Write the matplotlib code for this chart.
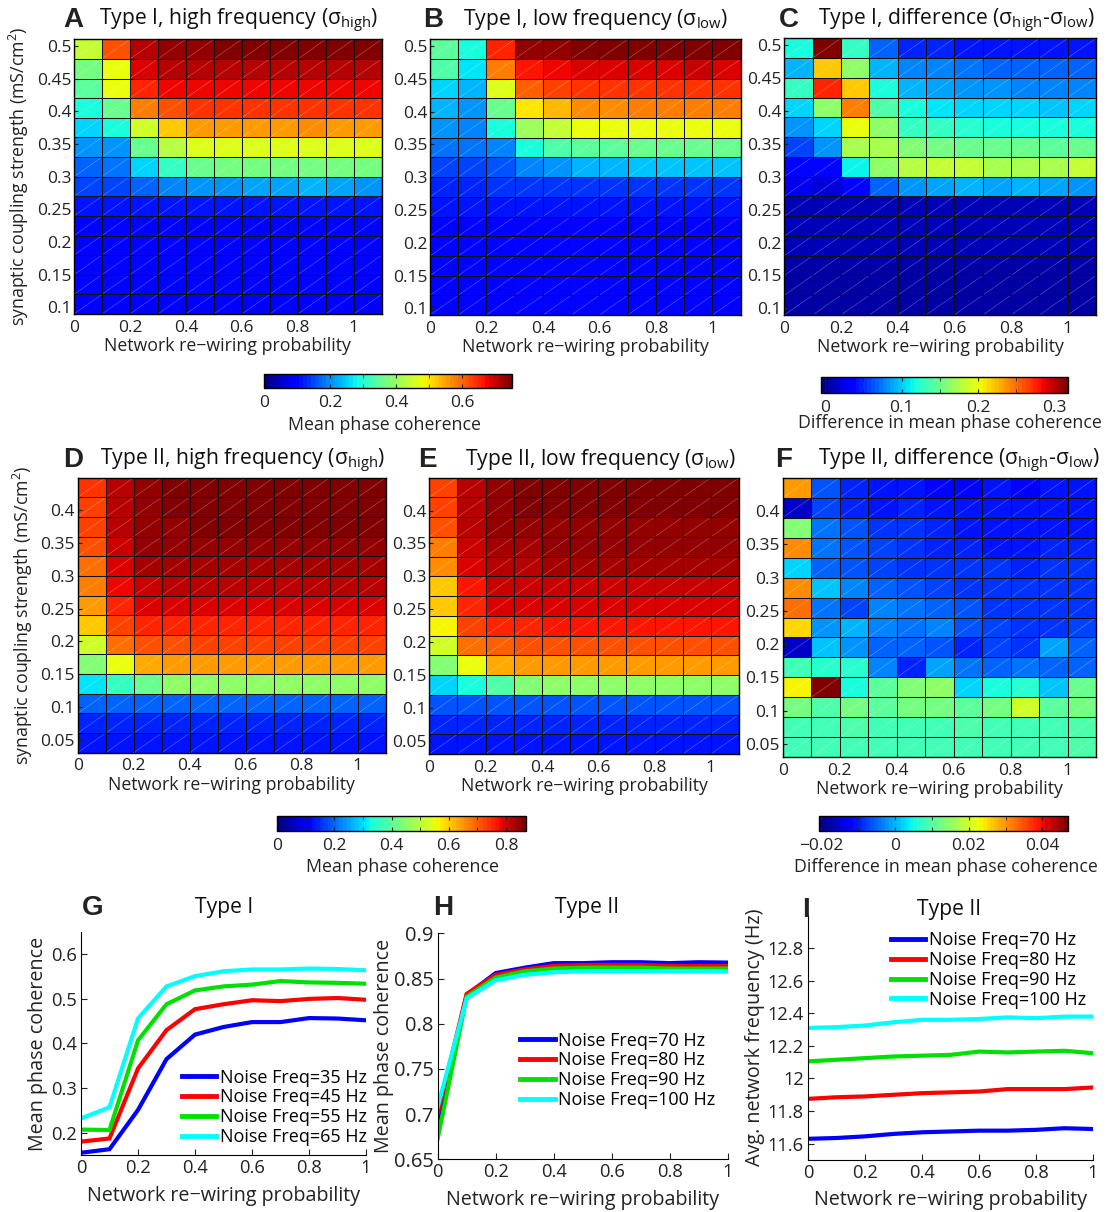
import numpy as np
import matplotlib
matplotlib.use('Agg')
import matplotlib.pyplot as plt
from matplotlib.collections import LineCollection
from matplotlib.ticker import MultipleLocator

plt.rcParams['font.family'] = ['Open Sans', 'DejaVu Sans']
plt.rcParams['mathtext.fontset'] = 'custom'
plt.rcParams['mathtext.rm'] = 'Open Sans'
plt.rcParams['mathtext.it'] = 'Open Sans:italic'
plt.rcParams['mathtext.bf'] = 'Open Sans:bold'

# ---------------- data ----------------
rewiring_edges = [0.0, 0.1, 0.2, 0.3, 0.4, 0.5, 0.6, 0.7, 0.8, 0.9, 1.0, 1.1]
coupling_edges_I = [0.51, 0.48, 0.45, 0.42, 0.39, 0.36, 0.33, 0.30, 0.27, 0.24, 0.21, 0.18, 0.15, 0.12, 0.09]
coupling_edges_II = [0.45, 0.42, 0.39, 0.36, 0.33, 0.30, 0.27, 0.24, 0.21, 0.18, 0.15, 0.12, 0.09, 0.06, 0.03]

# rows listed from top (strongest coupling) to bottom
typeI_high = [
    [0.435, 0.615, 0.71, 0.735, 0.74, 0.745, 0.745, 0.745, 0.745, 0.745, 0.745],
    [0.375, 0.47, 0.69, 0.705, 0.71, 0.71, 0.71, 0.71, 0.71, 0.71, 0.71],
    [0.35, 0.48, 0.655, 0.67, 0.675, 0.68, 0.68, 0.68, 0.68, 0.675, 0.68],
    [0.29, 0.36, 0.585, 0.615, 0.635, 0.64, 0.64, 0.64, 0.64, 0.645, 0.64],
    [0.25, 0.285, 0.45, 0.525, 0.555, 0.56, 0.56, 0.56, 0.565, 0.56, 0.56],
    [0.2, 0.21, 0.36, 0.43, 0.46, 0.465, 0.465, 0.465, 0.465, 0.465, 0.465],
    [0.17, 0.18, 0.25, 0.31, 0.36, 0.365, 0.365, 0.37, 0.37, 0.365, 0.37],
    [0.15, 0.15, 0.165, 0.19, 0.2, 0.21, 0.215, 0.22, 0.225, 0.215, 0.21],
    [0.11, 0.11, 0.11, 0.11, 0.115, 0.115, 0.115, 0.115, 0.115, 0.115, 0.115],
    [0.105, 0.105, 0.105, 0.105, 0.105, 0.105, 0.105, 0.105, 0.105, 0.105, 0.105],
    [0.1, 0.1, 0.1, 0.1, 0.1, 0.1, 0.1, 0.1, 0.1, 0.1, 0.1],
    [0.098, 0.098, 0.098, 0.098, 0.098, 0.098, 0.098, 0.098, 0.098, 0.098, 0.098],
    [0.095, 0.095, 0.095, 0.095, 0.095, 0.095, 0.095, 0.095, 0.095, 0.095, 0.095],
    [0.093, 0.093, 0.093, 0.093, 0.093, 0.093, 0.093, 0.093, 0.09, 0.093, 0.09],
]
typeI_low = [
    [0.35, 0.285, 0.65, 0.73, 0.74, 0.745, 0.745, 0.745, 0.745, 0.745, 0.745],
    [0.33, 0.27, 0.58, 0.66, 0.68, 0.69, 0.69, 0.69, 0.69, 0.695, 0.69],
    [0.255, 0.23, 0.465, 0.6, 0.63, 0.64, 0.645, 0.645, 0.645, 0.645, 0.645],
    [0.23, 0.21, 0.36, 0.5, 0.54, 0.57, 0.575, 0.58, 0.58, 0.585, 0.58],
    [0.2, 0.195, 0.285, 0.4, 0.435, 0.47, 0.47, 0.47, 0.47, 0.47, 0.47],
    [0.18, 0.18, 0.195, 0.29, 0.33, 0.345, 0.35, 0.355, 0.36, 0.36, 0.355],
    [0.15, 0.15, 0.155, 0.19, 0.21, 0.225, 0.23, 0.235, 0.24, 0.245, 0.235],
    [0.125, 0.125, 0.13, 0.135, 0.135, 0.14, 0.14, 0.14, 0.14, 0.14, 0.14],
    [0.11, 0.11, 0.11, 0.11, 0.11, 0.11, 0.11, 0.11, 0.11, 0.11, 0.11],
    [0.105, 0.105, 0.105, 0.105, 0.105, 0.105, 0.105, 0.105, 0.105, 0.105, 0.105],
    [0.1, 0.1, 0.1, 0.1, 0.1, 0.1, 0.1, 0.1, 0.1, 0.1, 0.1],
    [0.1, 0.1, 0.1, 0.1, 0.1, 0.1, 0.1, 0.1, 0.1, 0.1, 0.1],
    [0.097, 0.097, 0.097, 0.097, 0.097, 0.097, 0.097, 0.097, 0.097, 0.097, 0.097],
    [0.095, 0.095, 0.095, 0.095, 0.095, 0.095, 0.095, 0.095, 0.095, 0.095, 0.095],
]
typeI_diff = [
    [0.117, 0.318, 0.13, 0.065, 0.049, 0.046, 0.043, 0.043, 0.043, 0.043, 0.043],
    [0.091, 0.221, 0.166, 0.094, 0.078, 0.075, 0.072, 0.069, 0.065, 0.065, 0.065],
    [0.13, 0.273, 0.221, 0.117, 0.094, 0.088, 0.085, 0.081, 0.078, 0.078, 0.078],
    [0.101, 0.166, 0.247, 0.137, 0.117, 0.107, 0.104, 0.101, 0.101, 0.098, 0.101],
    [0.085, 0.101, 0.198, 0.162, 0.13, 0.127, 0.124, 0.12, 0.12, 0.12, 0.12],
    [0.059, 0.085, 0.175, 0.172, 0.156, 0.153, 0.15, 0.146, 0.146, 0.143, 0.146],
    [0.039, 0.036, 0.114, 0.166, 0.179, 0.182, 0.182, 0.172, 0.172, 0.172, 0.182],
    [0.026, 0.023, 0.036, 0.065, 0.081, 0.088, 0.091, 0.088, 0.094, 0.088, 0.085],
    [0.013, 0.013, 0.013, 0.013, 0.013, 0.013, 0.013, 0.013, 0.013, 0.013, 0.013],
    [0.012, 0.012, 0.012, 0.012, 0.012, 0.012, 0.012, 0.012, 0.012, 0.012, 0.012],
    [0.01, 0.01, 0.01, 0.01, 0.01, 0.01, 0.01, 0.01, 0.01, 0.01, 0.01],
    [0.009, 0.009, 0.009, 0.009, 0.009, 0.009, 0.009, 0.009, 0.009, 0.009, 0.009],
    [0.008, 0.008, 0.008, 0.008, 0.008, 0.008, 0.008, 0.008, 0.008, 0.008, 0.008],
    [0.007, 0.007, 0.007, 0.007, 0.007, 0.007, 0.007, 0.007, 0.007, 0.007, 0.007],
]
typeII_high = [
    [0.74, 0.826, 0.855, 0.857, 0.858, 0.859, 0.859, 0.859, 0.859, 0.859, 0.86],
    [0.73, 0.818, 0.853, 0.856, 0.858, 0.858, 0.858, 0.858, 0.858, 0.858, 0.859],
    [0.722, 0.815, 0.85, 0.855, 0.857, 0.858, 0.858, 0.858, 0.858, 0.858, 0.86],
    [0.713, 0.81, 0.842, 0.848, 0.85, 0.85, 0.85, 0.85, 0.85, 0.85, 0.85],
    [0.687, 0.8, 0.83, 0.836, 0.838, 0.838, 0.838, 0.838, 0.838, 0.838, 0.838],
    [0.67, 0.783, 0.81, 0.815, 0.818, 0.818, 0.818, 0.818, 0.818, 0.818, 0.818],
    [0.65, 0.757, 0.79, 0.795, 0.797, 0.797, 0.797, 0.797, 0.797, 0.797, 0.797],
    [0.61, 0.73, 0.75, 0.755, 0.757, 0.757, 0.757, 0.757, 0.757, 0.757, 0.757],
    [0.52, 0.69, 0.713, 0.718, 0.72, 0.72, 0.72, 0.72, 0.72, 0.72, 0.72],
    [0.435, 0.55, 0.635, 0.64, 0.642, 0.642, 0.642, 0.642, 0.642, 0.642, 0.642],
    [0.305, 0.365, 0.41, 0.45, 0.455, 0.46, 0.46, 0.46, 0.46, 0.46, 0.46],
    [0.2, 0.2, 0.2, 0.2, 0.2, 0.2, 0.2, 0.2, 0.2, 0.2, 0.2],
    [0.148, 0.148, 0.148, 0.148, 0.148, 0.148, 0.148, 0.148, 0.148, 0.148, 0.148],
    [0.13, 0.13, 0.13, 0.13, 0.13, 0.13, 0.13, 0.13, 0.13, 0.13, 0.13],
]
typeII_low = [
    [0.73, 0.826, 0.855, 0.857, 0.858, 0.859, 0.859, 0.859, 0.859, 0.859, 0.86],
    [0.722, 0.818, 0.853, 0.856, 0.858, 0.858, 0.858, 0.858, 0.858, 0.858, 0.859],
    [0.713, 0.818, 0.845, 0.85, 0.852, 0.853, 0.853, 0.853, 0.853, 0.853, 0.853],
    [0.67, 0.81, 0.835, 0.84, 0.842, 0.842, 0.842, 0.842, 0.842, 0.842, 0.842],
    [0.66, 0.79, 0.825, 0.828, 0.83, 0.83, 0.83, 0.83, 0.83, 0.83, 0.83],
    [0.61, 0.765, 0.81, 0.812, 0.814, 0.814, 0.814, 0.814, 0.814, 0.814, 0.814],
    [0.60, 0.748, 0.79, 0.795, 0.796, 0.796, 0.796, 0.796, 0.796, 0.796, 0.796],
    [0.557, 0.722, 0.757, 0.76, 0.762, 0.762, 0.762, 0.762, 0.762, 0.762, 0.762],
    [0.52, 0.68, 0.705, 0.71, 0.712, 0.712, 0.712, 0.712, 0.712, 0.712, 0.712],
    [0.435, 0.55, 0.635, 0.64, 0.642, 0.642, 0.642, 0.642, 0.642, 0.642, 0.642],
    [0.287, 0.33, 0.39, 0.435, 0.45, 0.452, 0.452, 0.452, 0.452, 0.452, 0.452],
    [0.19, 0.19, 0.19, 0.19, 0.19, 0.19, 0.19, 0.19, 0.19, 0.19, 0.19],
    [0.148, 0.148, 0.148, 0.148, 0.148, 0.148, 0.148, 0.148, 0.148, 0.148, 0.148],
    [0.135, 0.135, 0.135, 0.135, 0.135, 0.135, 0.135, 0.135, 0.135, 0.135, 0.135],
]
typeII_diff = [
    [0.0296, -0.0066, -0.0093, -0.0106, -0.0106, -0.0113, -0.0113, -0.0106, -0.0113, -0.0106, -0.0106],
    [-0.016, -0.0073, -0.0093, -0.01, -0.0093, -0.0106, -0.0106, -0.01, -0.0106, -0.01, -0.0106],
    [0.0135, -0.0039, -0.0066, -0.0079, -0.0086, -0.0093, -0.01, -0.0106, -0.0106, -0.01, -0.0106],
    [0.0303, -0.0039, -0.0059, -0.0073, -0.0086, -0.0093, -0.0093, -0.0106, -0.01, -0.0093, -0.0093],
    [0.0021, -0.0053, -0.0059, -0.0073, -0.0079, -0.0079, -0.0086, -0.0086, -0.0093, -0.0086, -0.0086],
    [0.0303, 0.0014, -0.0026, -0.0053, -0.0066, -0.0073, -0.0079, -0.0086, -0.0086, -0.0079, -0.0086],
    [0.0323, -0.0039, -0.0073, -0.0033, -0.0046, -0.0053, -0.0066, -0.0079, -0.0086, -0.0086, -0.0086],
    [0.0256, -0.0019, 0.0001, -0.0026, -0.0039, -0.0033, -0.0066, -0.0073, -0.0086, -0.0079, -0.0073],
    [-0.016, 0.0008, -0.0019, -0.0053, -0.0053, -0.0066, -0.0093, -0.0073, -0.0086, -0.0012, -0.0053],
    [0.0081, 0.0068, 0.0068, -0.0026, -0.0093, -0.0012, -0.0046, -0.0053, -0.0039, -0.0053, -0.0053],
    [0.0236, 0.047, 0.0055, 0.0108, 0.0135, 0.0148, 0.0021, 0.0055, 0.0061, 0.0008, 0.0115],
    [0.0122, 0.0095, 0.0128, 0.0102, 0.0122, 0.0122, 0.0102, 0.0122, 0.0202, 0.0108, 0.0122],
    [0.0088, 0.0088, 0.0095, 0.0088, 0.0088, 0.0088, 0.0095, 0.0088, 0.0088, 0.0088, 0.0095],
    [0.0081, 0.0081, 0.0081, 0.0081, 0.0081, 0.0081, 0.0081, 0.0081, 0.0081, 0.0081, 0.0095],
]

rewiring = [0.0, 0.1, 0.2, 0.3, 0.4, 0.5, 0.6, 0.7, 0.8, 0.9, 1.0]
G_labels = ['Noise Freq=35 Hz', 'Noise Freq=45 Hz', 'Noise Freq=55 Hz', 'Noise Freq=65 Hz']
G_35 = [0.155, 0.163, 0.251, 0.365, 0.42, 0.437, 0.448, 0.448, 0.457, 0.456, 0.452]
G_45 = [0.18, 0.187, 0.344, 0.43, 0.477, 0.488, 0.497, 0.495, 0.5, 0.502, 0.498]
G_55 = [0.207, 0.206, 0.407, 0.488, 0.519, 0.528, 0.532, 0.54, 0.537, 0.536, 0.534]
G_65 = [0.232, 0.257, 0.456, 0.528, 0.551, 0.562, 0.566, 0.566, 0.568, 0.567, 0.564]

H_labels = ['Noise Freq=70 Hz', 'Noise Freq=80 Hz', 'Noise Freq=90 Hz', 'Noise Freq=100 Hz']
H_70 = [0.694, 0.832, 0.856, 0.862, 0.867, 0.867, 0.868, 0.868, 0.867, 0.868, 0.8676]
H_80 = [0.701, 0.833, 0.854, 0.86, 0.864, 0.865, 0.865, 0.865, 0.864, 0.864, 0.864]
H_90 = [0.673, 0.83, 0.851, 0.858, 0.861, 0.862, 0.862, 0.862, 0.861, 0.861, 0.861]
H_100 = [0.708, 0.828, 0.848, 0.854, 0.857, 0.858, 0.858, 0.858, 0.858, 0.858, 0.8576]

I_labels = ['Noise Freq=70 Hz', 'Noise Freq=80 Hz', 'Noise Freq=90 Hz', 'Noise Freq=100 Hz']
I_70 = [11.63, 11.635, 11.645, 11.66, 11.67, 11.675, 11.68, 11.68, 11.685, 11.695, 11.69]
I_80 = [11.875, 11.885, 11.89, 11.9, 11.91, 11.915, 11.92, 11.935, 11.935, 11.935, 11.945]
I_90 = [12.105, 12.115, 12.125, 12.135, 12.14, 12.145, 12.165, 12.16, 12.165, 12.17, 12.155]
I_100 = [12.31, 12.315, 12.325, 12.345, 12.36, 12.36, 12.365, 12.375, 12.37, 12.38, 12.38]

line_colors = ['#0000ff', '#ff0000', '#00e000', '#00ffff']

# ---------------- layout helpers ----------------
W, H = 1112, 1212
fig = plt.figure(figsize=(W / 100, H / 100), dpi=100)


def rect(l, t, r, b):
    return [l / W, 1 - b / H, (r - l) / W, (b - t) / H]


def ftext(x, y, s, **kw):
    return fig.text(x / W, 1 - y / H, s, **kw)


jet = plt.get_cmap('jet', 64)
TICK_FS = 12.5
LAB_FS = 12.8
TITLE_FS = 15.2
LETTER_FS = 20
LP_LAB_FS = 14.2
LP_TICK_FS = 13.2
TXT = '#222222'


def heatmap(r, data, yedges, vmin, vmax, yticks, ylabels, ylabel=None):
    ax = fig.add_axes(rect(*r))
    arr = np.array(data)
    mesh = ax.pcolormesh(rewiring_edges, yedges, arr, cmap=jet, vmin=vmin, vmax=vmax,
                         edgecolors='none', linewidth=0)
    diag = []
    for i in range(len(yedges) - 1):
        for j in range(len(rewiring_edges) - 1):
            y0, y1 = sorted([yedges[i], yedges[i + 1]])
            diag.append([(rewiring_edges[j], y0), (rewiring_edges[j + 1], y1)])
    ax.add_collection(LineCollection(diag, colors='white', alpha=0.3, linewidths=0.5))
    # cell borders (black)
    for yv in yedges:
        ax.axhline(yv, color='#111111', lw=0.75, snap=True)
    for xv in rewiring_edges:
        ax.axvline(xv, color='#111111', lw=0.75, snap=True)
    ax.set_xlim(rewiring_edges[0], rewiring_edges[-1])
    ax.set_ylim(min(yedges), max(yedges))
    ax.set_xticks([0, 0.2, 0.4, 0.6, 0.8, 1.0])
    ax.set_xticklabels(['0', '0.2', '0.4', '0.6', '0.8', '1'])
    ax.set_yticks(yticks)
    ax.set_yticklabels(ylabels)
    ax.tick_params(direction='in', length=3, labelsize=TICK_FS, colors=TXT)
    ax.tick_params(axis='x', pad=4)
    ax.tick_params(axis='y', pad=2)
    ax.set_xlabel('Network re\u2212wiring probability', fontsize=LAB_FS, labelpad=1, color=TXT)
    if ylabel:
        ax.set_ylabel(ylabel, fontsize=LAB_FS, labelpad=4, color=TXT)
    for s in ax.spines.values():
        s.set_linewidth(1.0)
    return ax, mesh


ylab = 'synaptic coupling strength (mS/cm$^{2}$)'
yt1 = [0.1, 0.15, 0.2, 0.25, 0.3, 0.35, 0.4, 0.45, 0.5]
yl1 = ['0.1', '0.15', '0.2', '0.25', '0.3', '0.35', '0.4', '0.45', '0.5']
yt2 = [0.05, 0.1, 0.15, 0.2, 0.25, 0.3, 0.35, 0.4]
yl2 = ['0.05', '0.1', '0.15', '0.2', '0.25', '0.3', '0.35', '0.4']

axA, mA = heatmap((74, 39.3, 381.7, 314), typeI_high, coupling_edges_I, 0, 0.752, yt1, yl1, ylab)
axB, mB = heatmap((430, 39.3, 740.7, 315), typeI_low, coupling_edges_I, 0, 0.752, yt1, yl1)
axC, mC = heatmap((784.3, 38.3, 1096, 315), typeI_diff, coupling_edges_I, -0.006, 0.318, yt1, yl1)
axD, mD = heatmap((77.7, 477.7, 385.7, 752.7), typeII_high, coupling_edges_II, 0, 0.869, yt2, yl2, ylab)
axE, mE = heatmap((429.3, 477.7, 739, 754), typeII_low, coupling_edges_II, 0, 0.869, yt2, yl2)
axF, mF = heatmap((782.7, 477.7, 1096, 757.3), typeII_diff, coupling_edges_II, -0.0205, 0.047, yt2, yl2)


def cbar(r, mappable, ticks, labels, minor, label, label_y, label_x):
    cax = fig.add_axes(rect(*r))
    cb = fig.colorbar(mappable, cax=cax, orientation='horizontal', ticks=ticks)
    cb.set_ticklabels(labels)
    cax.xaxis.set_minor_locator(MultipleLocator(minor))
    cax.tick_params(which='both', direction='in', length=3, labelsize=TICK_FS, pad=5,
                    top=True, colors=TXT)
    cb.outline.set_linewidth(1.0)
    ftext(label_x, label_y, label, ha='center', va='center', fontsize=LAB_FS, color=TXT)
    return cb


cbar((264.3, 374.3, 512, 387.7), mA, [0, 0.2, 0.4, 0.6], ['0', '0.2', '0.4', '0.6'], 0.1,
     'Mean phase coherence', 425, 384)
cbar((820.7, 377.3, 1068.3, 392.7), mC, [0, 0.1, 0.2, 0.3], ['0', '0.1', '0.2', '0.3'], 0.05,
     'Difference in mean phase coherence', 423, 950)
cbar((277.3, 816, 525.7, 830.7), mD, [0, 0.2, 0.4, 0.6, 0.8], ['0', '0.2', '0.4', '0.6', '0.8'], 0.1,
     'Mean phase coherence', 867, 402)
cbar((819.3, 816, 1068.3, 830.7), mF, [-0.02, 0, 0.02, 0.04], ['\u22120.02', '0', '0.02', '0.04'], 0.01,
     'Difference in mean phase coherence', 867, 946)

# titles and panel letters
titles = [
    (63, 25, 'A', 99, 'Type I, high frequency (σ$_{\\rm high}$)'),
    (423, 25, 'B', 463, 'Type I, low frequency (σ$_{\\rm low}$)'),
    (779, 25, 'C', 818, 'Type I, difference (σ$_{\\rm high}$-σ$_{\\rm low}$)'),
    (63, 465, 'D', 100, 'Type II, high frequency (σ$_{\\rm high}$)'),
    (418, 465, 'E', 465, 'Type II, low frequency (σ$_{\\rm low}$)'),
    (775, 465, 'F', 818, 'Type II, difference (σ$_{\\rm high}$-σ$_{\\rm low}$)'),
]
for lx, by, letter, tx, t in titles:
    ftext(lx, by + 2, letter, ha='left', va='baseline', fontsize=LETTER_FS, fontweight='bold',
          family=['Liberation Sans', 'DejaVu Sans'], color=TXT)
    ftext(tx, by, t, ha='left', va='baseline', fontsize=TITLE_FS, color='#111111')


def lineplot(r, series, labels, ylim, yticks, ylabels, ylabel, leg_anchor, leg_loc, ytick_fs, ylpad):
    ax = fig.add_axes(rect(*r))
    for ys, c, lab in zip(series, line_colors, labels):
        ax.plot(rewiring, ys, color=c, lw=3.0, label=lab, solid_joinstyle='miter')
    ax.set_xlim(0, 1)
    ax.set_ylim(*ylim)
    ax.set_xticks([0, 0.2, 0.4, 0.6, 0.8, 1.0])
    ax.set_xticklabels(['0', '0.2', '0.4', '0.6', '0.8', '1'])
    ax.set_yticks(yticks)
    ax.set_yticklabels(ylabels)
    ax.spines['top'].set_visible(False)
    ax.spines['right'].set_visible(False)
    ax.tick_params(direction='in', length=4, labelsize=LP_TICK_FS, pad=3, colors=TXT)
    ax.tick_params(axis='y', labelsize=ytick_fs)
    ax.set_xlabel('Network re\u2212wiring probability', fontsize=LP_LAB_FS, labelpad=6, color=TXT)
    ax.set_ylabel(ylabel, fontsize=LP_LAB_FS, labelpad=ylpad, color=TXT)
    ax.legend(loc=leg_loc, bbox_to_anchor=leg_anchor, frameon=False, fontsize=13,
              handlelength=1.9, handletextpad=0.2, labelspacing=0.1, borderaxespad=0,
              borderpad=0)
    for lh in ax.get_legend().get_lines():
        lh.set_linewidth(3.5)
    return ax


lineplot((81, 932, 366, 1155), [G_35, G_45, G_55, G_65], G_labels, (0.15, 0.65),
         [0.2, 0.3, 0.4, 0.5, 0.6], ['0.2', '0.3', '0.4', '0.5', '0.6'],
         'Mean phase coherence', (0.355, 0.04), 'lower left', LP_TICK_FS, 2)
lineplot((437.7, 933.3, 727.7, 1159.3), [H_70, H_80, H_90, H_100], H_labels, (0.65, 0.9),
         [0.65, 0.7, 0.75, 0.8, 0.85, 0.9], ['0.65', '0.7', '0.75', '0.8', '0.85', '0.9'],
         'Mean phase coherence', (0.285, 0.565), 'upper left', 14.5, 0)
lineplot((808, 915.5, 1093, 1160), [I_70, I_80, I_90, I_100], I_labels, (11.5, 13.0),
         [11.6, 11.8, 12.0, 12.2, 12.4, 12.6, 12.8],
         ['11.6', '11.8', '12', '12.2', '12.4', '12.6', '12.8'],
         'Avg. network frequency (Hz)', (0.29, 0.935), 'upper left', LP_TICK_FS, 2)

for lx, tx, by, letter, t in [(82, 195, 913, 'G', 'Type I'), (433, 555, 913, 'H', 'Type II'),
                              (802, 917, 915, 'I', 'Type II')]:
    ftext(lx, by + 2, letter, ha='left', va='baseline', fontsize=LETTER_FS, fontweight='bold',
          family=['Liberation Sans', 'DejaVu Sans'], color=TXT)
    ftext(tx, by, t, ha='left', va='baseline', fontsize=TITLE_FS, color='#111111')

fig.savefig('out.png', dpi=100)
